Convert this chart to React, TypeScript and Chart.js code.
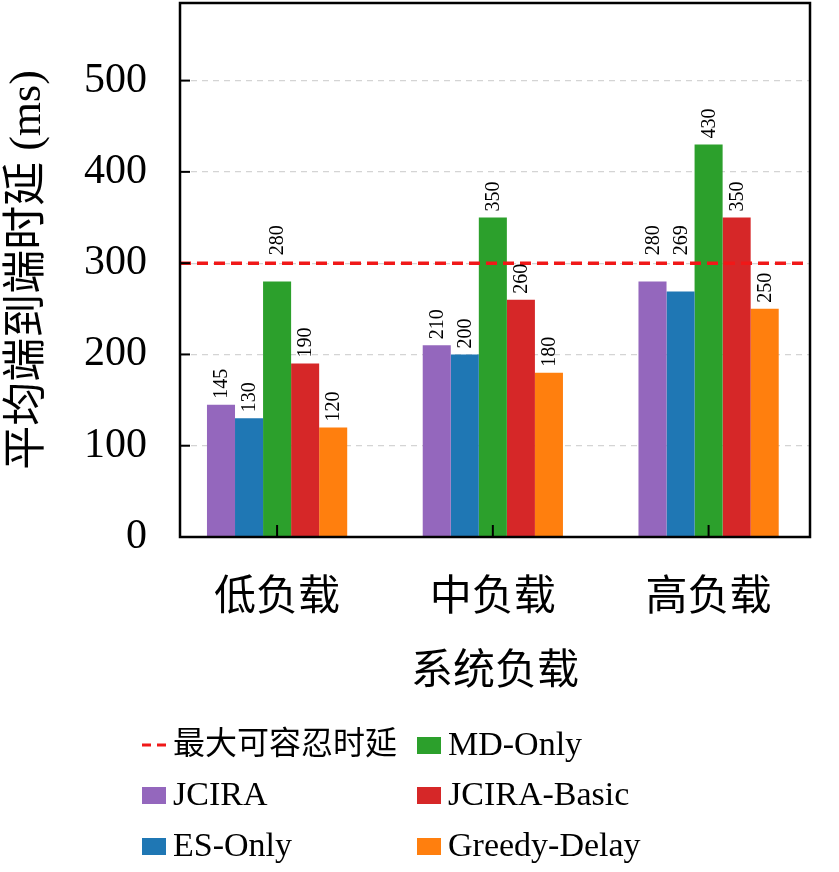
import React, { useEffect, useRef } from "react";
import { Chart, registerables, Plugin } from "chart.js";

Chart.register(...registerables);

const FONT = "'Liberation Serif', 'Noto Sans CJK SC', serif";

const categories = ["低负载", "中负载", "高负载"];
const seriesNames = ["JCIRA", "ES-Only", "MD-Only", "JCIRA-Basic", "Greedy-Delay"];
const seriesColors = ["#9467bd", "#1f77b4", "#2ca02c", "#d62728", "#ff7f0e"];
const jcira = [145, 210, 280];
const esOnly = [130, 200, 269];
const mdOnly = [280, 350, 430];
const jciraBasic = [190, 260, 350];
const greedyDelay = [120, 180, 250];
const seriesValues = [jcira, esOnly, mdOnly, jciraBasic, greedyDelay];
const thresholdLabel = "最大可容忍时延";
const thresholdValue = 300;
const thresholdColor = "#f01818";
const yTicks = [0, 100, 200, 300, 400, 500];
const X_MIN = -0.45;
const X_MAX = 2.47;

// value labels, rotated, above each bar (lifted over the threshold line when they would cross it)
const barLabels: Plugin<"bar"> = {
  id: "barLabels",
  afterDatasetsDraw(chart) {
    const { ctx } = chart;
    const lineY = chart.scales.y.getPixelForValue(thresholdValue);
    ctx.save();
    ctx.font = `20px ${FONT}`;
    ctx.fillStyle = "#000";
    ctx.textAlign = "left";
    ctx.textBaseline = "middle";
    chart.data.datasets.forEach((ds, i) => {
      if (ds.type === "line") return;
      const meta = chart.getDatasetMeta(i);
      meta.data.forEach((el: any, j) => {
        const text = String(seriesValues[i - 1][j]);
        const w = ctx.measureText(text).width;
        let bottom = el.y - 6;
        if (bottom - w < lineY - 2 && bottom > lineY) bottom = lineY - 8;
        ctx.save();
        ctx.translate(el.x, bottom);
        ctx.rotate(-Math.PI / 2);
        ctx.fillText(text, 0, 1);
        ctx.restore();
      });
    });
    ctx.restore();
  },
};

// frame, inward ticks and the legend
const frame: Plugin<"bar"> = {
  id: "frame",
  afterDraw(chart) {
    const { ctx, chartArea: a } = chart;
    const x = chart.scales.x;
    const y = chart.scales.y;
    ctx.save();
    ctx.strokeStyle = "#000";
    ctx.lineWidth = 2;
    yTicks.forEach((v) => {
      const py = y.getPixelForValue(v);
      ctx.beginPath();
      ctx.moveTo(a.left, py);
      ctx.lineTo(a.left + 10, py);
      ctx.stroke();
    });
    categories.forEach((_, i) => {
      const px = x.getPixelForValue(i);
      ctx.beginPath();
      ctx.moveTo(px, a.bottom);
      ctx.lineTo(px, a.bottom - 12);
      ctx.stroke();
    });
    ctx.lineWidth = 2.5;
    ctx.strokeRect(a.left, a.top, a.right - a.left, a.bottom - a.top);

    // legend, two columns
    const items = [
      { text: thresholdLabel, color: thresholdColor, dash: true, size: 32 },
      ...seriesNames.map((n, i) => ({ text: n, color: seriesColors[i], dash: false, size: 34 })),
    ];
    const cols = [142, 417];
    const rows = [745, 795, 846];
    ctx.textBaseline = "middle";
    ctx.textAlign = "left";
    items.forEach((it, k) => {
      const cx = cols[Math.floor(k / 3)];
      const cy = rows[k % 3];
      if (it.dash) {
        ctx.strokeStyle = it.color;
        ctx.lineWidth = 3;
        ctx.setLineDash([9, 6]);
        ctx.beginPath();
        ctx.moveTo(cx, cy);
        ctx.lineTo(cx + 24, cy);
        ctx.stroke();
        ctx.setLineDash([]);
      } else {
        ctx.fillStyle = it.color;
        ctx.fillRect(cx, cy - 8, 24, 17);
      }
      ctx.font = `${it.size}px ${FONT}`;
      ctx.fillStyle = "#000";
      ctx.fillText(it.text, cx + 31, cy + 1);
    });
    ctx.restore();
  },
};

const App: React.FC = () => {
  const canvasRef = useRef<HTMLCanvasElement | null>(null);
  const chartRef = useRef<Chart | null>(null);

  useEffect(() => {
    const canvas = canvasRef.current;
    if (!canvas) return;
    const ctx = canvas.getContext("2d");
    if (!ctx) return;
    if (chartRef.current) chartRef.current.destroy();

    Chart.defaults.font.family = FONT;
    Chart.defaults.color = "#000";

    const datasets: any[] = [
      {
        type: "line",
        label: thresholdLabel,
        data: [
          { x: X_MIN, y: thresholdValue },
          { x: X_MAX, y: thresholdValue },
        ],
        borderColor: thresholdColor,
        borderWidth: 3.5,
        borderDash: [11, 6],
        pointRadius: 0,
        order: 0,
      },
      ...seriesNames.map((name, i) => ({
        type: "bar",
        label: name,
        data: seriesValues[i].map((v, j) => ({ x: j, y: v })),
        backgroundColor: seriesColors[i],
        borderWidth: 0,
        categoryPercentage: 0.65,
        barPercentage: 1,
        order: 1,
      })),
    ];

    chartRef.current = new Chart(ctx, {
      type: "bar",
      data: { datasets },
      options: {
        animation: false,
        responsive: false,
        layout: { padding: { left: 0, top: 3, right: 29, bottom: 172 } },
        plugins: { legend: { display: false }, tooltip: { enabled: false } },
        scales: {
          x: {
            type: "linear",
            min: X_MIN,
            max: X_MAX,
            offset: false,
            afterFit(scale: any) {
              scale.height = 163;
              scale.paddingLeft = 0;
              scale.paddingRight = 0;
              scale.paddingTop = 0;
              scale.paddingBottom = 0;
            },
            afterBuildTicks(scale: any) {
              scale.ticks = categories.map((_, i) => ({ value: i }));
            },
            grid: { display: false },
            border: { display: false },
            ticks: {
              font: { size: 42 },
              padding: 29,
              maxRotation: 0,
              autoSkip: false,
              callback: (v: any) => categories[v] ?? "",
            },
            title: {
              display: true,
              text: "系统负载",
              font: { size: 42 },
              padding: { top: 0, bottom: 2 },
            },
          },
          y: {
            min: 0,
            max: 585,
            afterFit(scale: any) {
              scale.width = 180;
              scale.paddingLeft = 0;
              scale.paddingRight = 0;
              scale.paddingTop = 0;
              scale.paddingBottom = 0;
            },
            afterBuildTicks(scale: any) {
              scale.ticks = yTicks.map((v) => ({ value: v }));
            },
            grid: {
              drawTicks: false,
              color: (c: any) => (c.tick && c.tick.value > 0 ? "#d4d4d4" : "rgba(0,0,0,0)"),
              lineWidth: 1.2,
            },
            border: { display: false, dash: [6, 5] },
            ticks: { font: { size: 42 }, padding: 33 },
            title: {
              display: true,
              text: "平均端到端时延 (ms)",
              font: { size: 44 },
              padding: { top: 2, bottom: 0 },
            },
          },
        },
      },
      plugins: [barLabels as any, frame as any],
    });

    return () => {
      if (chartRef.current) {
        chartRef.current.destroy();
        chartRef.current = null;
      }
    };
  }, []);

  return (
    <div style={{ position: "fixed", left: 0, top: 0, width: 839, height: 872, background: "#fff" }}>
      <canvas ref={canvasRef} width={839} height={872} />
    </div>
  );
};

export default App;
